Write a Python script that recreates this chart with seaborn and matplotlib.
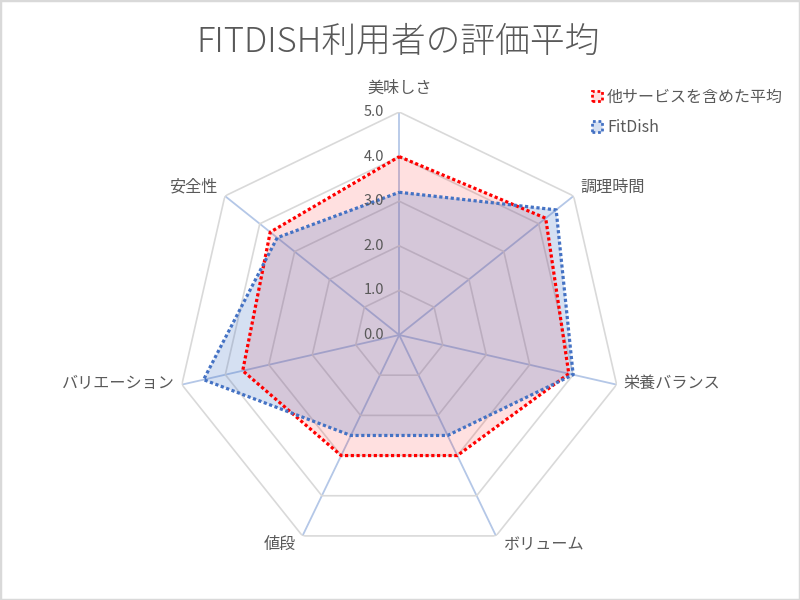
import numpy as np
import pandas as pd
import matplotlib
matplotlib.use("Agg")
import matplotlib.pyplot as plt
from matplotlib.patches import Patch, Rectangle
import seaborn as sns

# ---- data ----
categories = ["美味しさ", "調理時間", "栄養バランス", "ボリューム", "値段", "バリエーション", "安全性"]
avg_values = [4.0, 4.2, 3.9, 3.0, 3.0, 3.6, 3.7]
fitdish_values = [3.2, 4.5, 4.0, 2.5, 2.5, 4.5, 3.5]
series_names = ["他サービスを含めた平均", "FitDish"]
r_ticks = [0, 1, 2, 3, 4, 5]
r_tick_labels = ["0.0", "1.0", "2.0", "3.0", "4.0", "5.0"]
title = "FITDISH利用者の評価平均"

line_colors = ["#FF0000", "#4472C4"]
fill_alphas = [0.12, 0.22]
text_color = "#595959"

sns.set_theme(style="white")
plt.rcParams["font.family"] = ["Noto Sans CJK JP", "DejaVu Sans"]

fig = plt.figure(figsize=(8, 6), dpi=100)
ax = fig.add_axes([0.2203, 0.07, 0.5575, 0.7433], projection="polar")
ax.set_theta_zero_location("N")
ax.set_theta_direction(-1)

n = len(categories)
angles = np.linspace(0, 2 * np.pi, n, endpoint=False)
closed_angles = np.append(angles, angles[0] + 2 * np.pi)

# grid: heptagons
for r in r_ticks[1:]:
    ax.plot(closed_angles, [r] * (n + 1), color="#D9D9D9", lw=1.2, zorder=1)

ax.set_ylim(0, r_ticks[-1])
ax.set_yticks([])
ax.yaxis.grid(False)
ax.set_xticks(angles)
ax.set_xticklabels([])
ax.xaxis.grid(True, color="#B4C7E7", lw=1.3)
ax.spines["polar"].set_visible(False)
ax.set_facecolor("none")

# data
all_vals = [avg_values, fitdish_values]
for name, vals, col, alpha in zip(series_names, all_vals, line_colors, fill_alphas):
    closed_vals = list(vals) + [vals[0]]
    df = pd.DataFrame({"angle": closed_angles, "value": closed_vals})
    ax.fill(closed_angles, closed_vals, color=col, alpha=alpha, lw=0, zorder=2)
    sns.lineplot(data=df, x="angle", y="value", sort=False, ax=ax, color=col,
                 linewidth=2.3, linestyle=(0, (1, 0.8)), legend=False, zorder=3)
ax.set_xlabel("")
ax.set_ylabel("")

# radial tick labels
for v, lab in zip(r_ticks, r_tick_labels):
    ax.annotate(lab, xy=(0, v), xytext=(-15, 0), textcoords="offset pixels",
                ha="right", va="center", fontsize=10.5, color=text_color, zorder=5)

# category labels
for ang, cat in zip(angles, categories):
    s, c = np.sin(ang), np.cos(ang)
    if abs(s) < 0.1:
        ha, va, dx, dy = "center", "bottom", 0, 15
    else:
        ha = "left" if s > 0 else "right"
        va = "center"
        dx = 7 if s > 0 else -7
        dy = 9 if c > 0.5 else (-9 if c < -0.5 else 1)
    ax.annotate(cat, xy=(ang, r_ticks[-1]), xytext=(dx, dy), textcoords="offset pixels",
                ha=ha, va=va, fontsize=11.6, color=text_color, annotation_clip=False)

ax.set_xlim(0, 2 * np.pi)

# title
fig.text(0.4975, 1 - 42 / 600, title, ha="center", va="center", fontsize=25,
         color=text_color, fontweight="light")

# legend
handles = [Patch(facecolor=matplotlib.colors.to_rgba(col, a), edgecolor=col,
                 linestyle=(0, (1, 1)), linewidth=2)
           for col, a in zip(line_colors, fill_alphas)]
fig.legend(handles, series_names, loc="upper left", bbox_to_anchor=(0.722, 0.876),
           frameon=False, fontsize=11.5, handlelength=0.65, handleheight=0.65,
           handletextpad=0.3, labelspacing=0.85, labelcolor=text_color)

# figure border
fig.patches.append(Rectangle((0, 0), 1, 1, transform=fig.transFigure, fill=False,
                             edgecolor="#D9D9D9", lw=2.5))

fig.savefig("out.png", dpi=100)
